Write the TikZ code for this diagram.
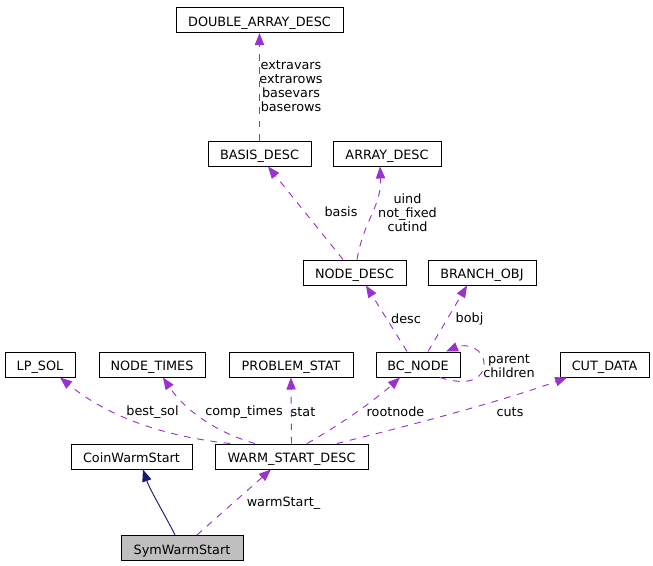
\documentclass[tikz,border=0pt]{standalone}
\usepackage{fontspec}
\setmainfont{DejaVu Sans}
\usetikzlibrary{arrows.meta}
\definecolor{edgepurple}{HTML}{9A32CD}
\definecolor{edgenavy}{HTML}{191970}
\definecolor{symgray}{HTML}{BFBFBF}
\begin{document}
\begin{tikzpicture}[x=0.75pt,y=-0.75pt,
  every node/.style={font=\fontsize{9.6}{10.5}\selectfont},
  box/.style={draw=black, line width=0.75pt, minimum height=18.75pt, inner sep=0pt, fill=white,
    text height=9pt, text depth=0pt},
  bw/.style={minimum width={#1*0.75pt}},
  lbl/.style={align=center, inner sep=0pt},
  uses/.style={draw=edgepurple, line width=0.7pt, dash pattern=on 5pt off 5pt,
    -{Triangle[length=9pt,width=7pt,fill=edgepurple]}},
  inherit/.style={draw=edgenavy, line width=0.7pt,
    -{Triangle[length=9pt,width=7pt,fill=edgenavy]}}]
\useasboundingbox (0,0) rectangle (653,565);

% nodes
\node[box,bw=167] (DAD) at (259.5,20) {DOUBLE\_ARRAY\_DESC};
\node[box,bw=103] (BASIS) at (259.5,153.5) {BASIS\_DESC};
\node[box,bw=108] (ARRAY) at (387,153.5) {ARRAY\_DESC};
\node[box,bw=103] (NDESC) at (354.5,272.5) {NODE\_DESC};
\node[box,bw=108] (BOBJ) at (482,272.5) {BRANCH\_OBJ};
\node[box,bw=70] (LPSOL) at (40,364.5) {LP\_SOL};
\node[box,bw=106] (NTIMES) at (152,364.5) {NODE\_TIMES};
\node[box,bw=124] (PSTAT) at (291,364.5) {PROBLEM\_STAT};
\node[box,bw=84] (BCNODE) at (418,364.5) {BC\_NODE};
\node[box,bw=89] (CUTDATA) at (604.5,364.5) {CUT\_DATA};
\node[box,bw=121] (COIN) at (131.5,456.5) {CoinWarmStart};
\node[box,bw=153] (WSD) at (291.5,456.5) {WARM\_START\_DESC};
\node[box,bw=122,fill=symgray] (SYM) at (182,548) {SymWarmStart};

% edges
\draw[uses] (BASIS.north) -- (DAD.south);
\draw[uses] ([xshift=-8.6pt]NDESC.north) -- ([xshift=6.4pt]BASIS.south);
\draw[uses] ([xshift=1.9pt]NDESC.north) .. controls ([xshift=7pt,yshift=30pt]NDESC.north) and ([xshift=-4pt,yshift=-30pt]ARRAY.south) .. ([xshift=-5.2pt]ARRAY.south);
\draw[uses] ([xshift=-8.2pt]BCNODE.north) -- ([xshift=8.6pt]NDESC.south);
\draw[uses] ([xshift=7.5pt]BCNODE.north) -- ([xshift=-11.2pt]BOBJ.south);
\draw[uses] ([xshift=16.5pt]BCNODE.south) .. controls (470,387) and (484,378) .. (484,364)
  .. controls (484,348) and (466,343) .. ([xshift=21pt]BCNODE.north);
\draw[uses] ([xshift=-46pt]WSD.north) .. controls (150,435) and (100,410) .. ([xshift=15pt]LPSOL.south);
\draw[uses] ([xshift=-27.4pt]WSD.north) .. controls (215,432) and (185,410) .. ([xshift=8.2pt]NTIMES.south);
\draw[uses] (WSD.north) -- (PSTAT.south);
\draw[uses] ([xshift=11.6pt]WSD.north) .. controls (340,425) and (375,400) .. ([xshift=-13.5pt]BCNODE.south);
\draw[uses] ([xshift=34pt]WSD.north) .. controls (400,428) and (500,402) .. ([xshift=-28pt]CUTDATA.south);
\draw[inherit] ([xshift=-5.2pt]SYM.north) .. controls (165,515) and (150,490) .. ([xshift=8.6pt]COIN.south);
\draw[uses] ([xshift=11.2pt]SYM.north) -- ([xshift=-15.4pt]WSD.south);

% labels
\node[lbl] (l1) at (291,86.5) {extravars\\extrarows\\basevars\\baserows};
\node[lbl] (l2) at (341,212) {basis};
\node[lbl] (l3) at (407.5,212.5) {uind\\not\_fixed\\cutind};
\node[lbl] (l4) at (406,319) {desc};
\node[lbl] (l5) at (469.5,319) {bobj};
\node[lbl] (l6) at (509,366) {parent\\children};
\node[lbl] (l7) at (152.5,412) {best\_sol};
\node[lbl] (l8) at (244,412) {comp\_times};
\node[lbl] (l9) at (303,412) {stat};
\node[lbl] (l10) at (395.5,412) {rootnode};
\node[lbl] (l11) at (510,412) {cuts};
\node[lbl] (l12) at (283.5,503) {warmStart\_};
\end{tikzpicture}
\end{document}
